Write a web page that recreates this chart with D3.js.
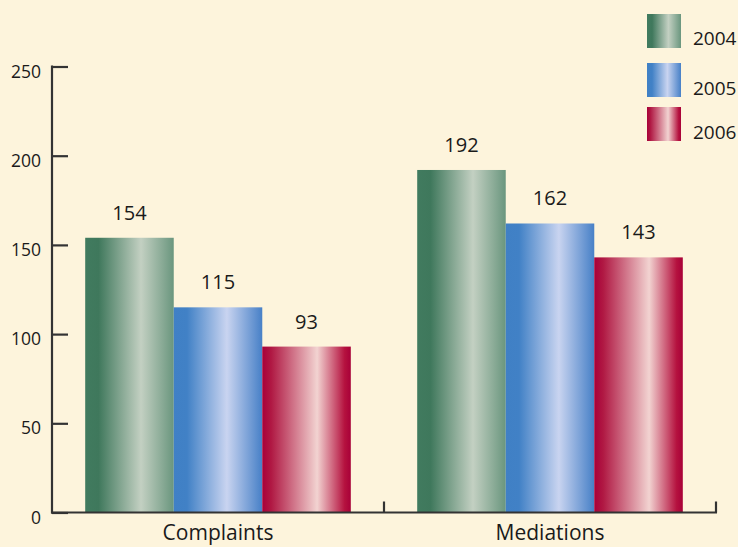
<!DOCTYPE html>
<html>
<head>
<meta charset="utf-8">
<script src="https://cdn.jsdelivr.net/npm/d3@7"></script>
<style>
html,body{margin:0;padding:0;background:#fdf4dc;}
svg{display:block;}
text{font-family:"Open Sans","Noto Sans",sans-serif;fill:#1a1a1a;}
</style>
</head>
<body>
<script>
const categories = ["Complaints", "Mediations"];
const years = ["2004", "2005", "2006"];
const values2004 = [154, 192];
const values2005 = [115, 162];
const values2006 = [93, 143];
const yTicks = [0, 50, 100, 150, 200, 250];

const seriesValues = [values2004, values2005, values2006];
const data = categories.map((c, i) => ({cat: c, vals: years.map((y, j) => ({year: y, v: seriesValues[j][i]}))}));

const W = 738, H = 547;
const svg = d3.select("body").append("svg").attr("width", W).attr("height", H);
svg.append("rect").attr("width", W).attr("height", H).attr("fill", "#fdf4dc");

const gradStops = {
  "2004": [[0, "#417b5f"], [0.15, "#3f785c"], [0.63, "#c3d0c2"], [1, "#6a967e"]],
  "2005": [[0, "#4080c5"], [0.15, "#4181c6"], [0.6, "#c9d4f0"], [1, "#4780c7"]],
  "2006": [[0, "#a8003a"], [0.1, "#b01843"], [0.62, "#f2d3d1"], [0.93, "#b5123f"], [1, "#a80038"]]
};
const defs = svg.append("defs");
years.forEach(y => {
  const g = defs.append("linearGradient").attr("id", "g" + y)
    .attr("x1", "0").attr("x2", "1").attr("y1", "0").attr("y2", "0");
  gradStops[y].forEach(s => g.append("stop").attr("offset", s[0]).attr("stop-color", s[1]));
});

const y = d3.scaleLinear().domain([0, 250]).range([512.5, 66.5]);
const x0 = d3.scaleBand().domain(categories).range([52, 716]).paddingInner(0.2).paddingOuter(0.1);
const x1 = d3.scaleBand().domain(years).range([0, x0.bandwidth()]).padding(0);

// bars
const groups = svg.selectAll("g.grp").data(data).enter().append("g")
  .attr("transform", d => `translate(${x0(d.cat)},0)`);
groups.selectAll("rect").data(d => d.vals).enter().append("rect")
  .attr("x", d => x1(d.year)).attr("width", x1.bandwidth())
  .attr("y", d => y(d.v)).attr("height", d => y(0) - y(d.v))
  .attr("fill", d => `url(#g${d.year})`);
groups.selectAll("text").data(d => d.vals).enter().append("text")
  .attr("x", d => x1(d.year) + x1.bandwidth() / 2)
  .attr("y", d => y(d.v) - 18)
  .attr("text-anchor", "middle").attr("font-size", 20)
  .text(d => d.v);

// left axis
const yAxis = d3.axisRight(y).tickValues(yTicks).tickSize(16).tickFormat("");
const ga = svg.append("g").attr("transform", "translate(52,0)").call(yAxis);
ga.select(".domain").remove();
ga.selectAll(".tick line").attr("stroke", "#333").attr("stroke-width", 2.2);
svg.append("line").attr("x1", 52).attr("x2", 52).attr("y1", y(250) - 1).attr("y2", y(0) + 1)
  .attr("stroke", "#333").attr("stroke-width", 2.2);
svg.selectAll("text.ytl").data(yTicks).enter().append("text").attr("class", "ytl")
  .attr("x", 41).attr("y", d => y(d) + 11).attr("text-anchor", "end").attr("font-size", 17.5)
  .text(d => d);

// bottom axis
svg.append("line").attr("x1", 51).attr("x2", 717).attr("y1", y(0)).attr("y2", y(0))
  .attr("stroke", "#333").attr("stroke-width", 2.2);
const bTicks = categories.map(c => x0(c) + x0.bandwidth() + x0.step() * x0.paddingInner() / 2);
bTicks[bTicks.length - 1] = 716;
svg.selectAll("line.bt").data(bTicks).enter().append("line").attr("class", "bt")
  .attr("x1", d => d).attr("x2", d => d).attr("y1", y(0)).attr("y2", y(0) - 11)
  .attr("stroke", "#333").attr("stroke-width", 2.2);
svg.selectAll("text.cat").data(categories).enter().append("text").attr("class", "cat")
  .attr("x", d => x0(d) + x0.bandwidth() / 2).attr("y", 540)
  .attr("text-anchor", "middle").attr("font-size", 21).text(d => d);

// legend
const legY = [14, 63, 107];
const leg = svg.selectAll("g.leg").data(years).enter().append("g")
  .attr("transform", (d, i) => `translate(647,${legY[i]})`);
leg.append("rect").attr("width", 34).attr("height", 34).attr("fill", d => `url(#g${d})`);
leg.append("text").attr("x", 46).attr("y", (d, i) => [31, 32, 32][i]).attr("font-size", 19).text(d => d);
</script>
</body>
</html>
